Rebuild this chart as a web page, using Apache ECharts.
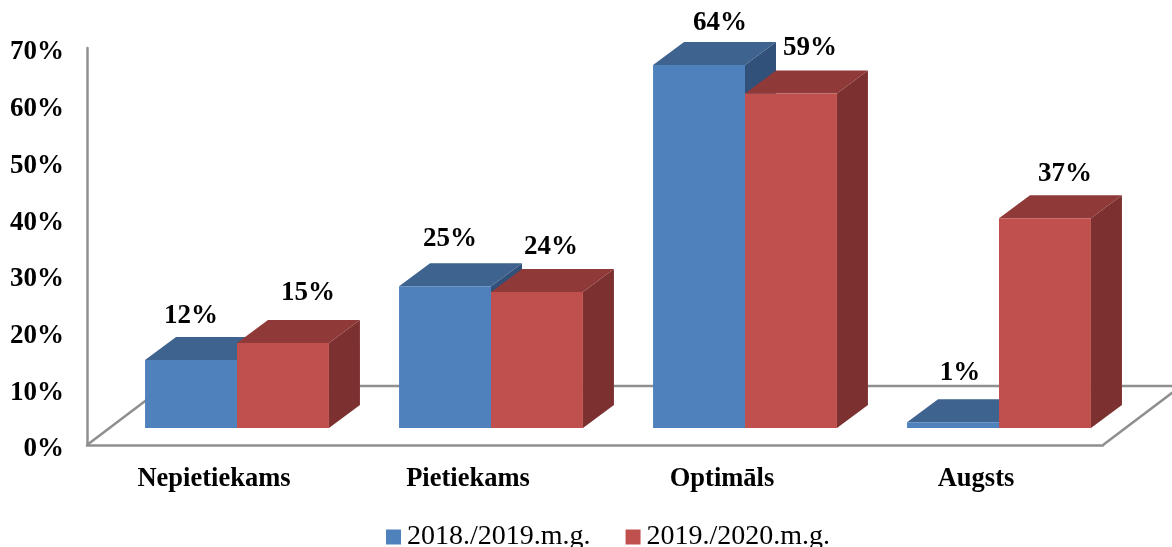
<!DOCTYPE html>
<html>
<head>
<meta charset="utf-8">
<style>
    html, body { margin: 0; padding: 0; background: #fff; overflow: hidden; }
    #chart { width: 1172px; height: 547px; }
</style>
<script src="https://cdn.jsdelivr.net/npm/echarts@6/dist/echarts.min.js"></script>
</head>
<body>
<div id="chart"></div>
<script>
var categories = ['Nepietiekams', 'Pietiekams', 'Optimāls', 'Augsts'];
var seriesNames = ['2018./2019.m.g.', '2019./2020.m.g.'];
var values2018 = [12, 25, 64, 1];
var values2019 = [15, 24, 59, 37];

// hand placed labels in the original: shift from the middle of each bar [x, y]
var labelShift2018 = [[0, -44], [5, -47], [21, -42], [7, -49]];
var labelShift2019 = [[25, -50], [14, -45], [19, -45], [20, -44]];

var serif = '"Liberation Serif", "Times New Roman", serif';
var boldFont = 'bold 27px ' + serif;
var wallColor = '#8f8f8f';

// fake 3d: bars sit a little behind the front edge of the floor
var barShift = [23, -17];
var barDepth = [31, -23];
var floorDepth = [78, -59];

var blue = { front: '#4f81bd', top: '#3e638f', side: '#31517a' };
var red = { front: '#c0504d', top: '#8f3a39', side: '#7c3130' };

function poly(points, color) {
    return { type: 'polygon', shape: { points: points }, style: { fill: color } };
}

function renderFloor(params, api) {
    var left = api.coord([0, 0]);
    var band = api.size([1, 0])[0];
    var x0 = left[0] - band / 2;
    var x1 = x0 + band * categories.length;
    var y0 = left[1];
    return {
        type: 'polyline',
        shape: {
            points: [
                [x0, y0],
                [x0 + floorDepth[0], y0 + floorDepth[1]],
                [x1 + floorDepth[0], y0 + floorDepth[1]],
                [x1, y0]
            ]
        },
        style: { stroke: wallColor, lineWidth: 2.5, fill: null }
    };
}

// side: -1 is the left bar of a pair, 0 the right one
function makeBarRender(side, colors, shifts) {
    return function (params, api) {
        var i = api.value(0);
        var val = api.value(1);
        var top = api.coord([i, val]);
        var base = api.coord([i, 0]);
        var w = api.size([1, 0])[0] * 0.362;
        var x0 = top[0] + barShift[0] + side * w;
        var x1 = x0 + w;
        var y0 = top[1] + barShift[1];
        var y1 = base[1] + barShift[1];
        var dx = barDepth[0];
        var dy = barDepth[1];
        var shift = shifts[params.dataIndex];
        return {
            type: 'group',
            children: [
                poly([[x1, y0], [x1 + dx, y0 + dy], [x1 + dx, y1 + dy], [x1, y1]], colors.side),
                poly([[x0, y0], [x0 + dx, y0 + dy], [x1 + dx, y0 + dy], [x1, y0]], colors.top),
                poly([[x0, y0], [x1, y0], [x1, y1], [x0, y1]], colors.front),
                {
                    type: 'text',
                    style: {
                        text: val + '%',
                        x: (x0 + x1) / 2 + shift[0],
                        y: y0 + shift[1],
                        textAlign: 'center',
                        textVerticalAlign: 'middle',
                        font: boldFont,
                        fill: '#000'
                    }
                }
            ]
        };
    };
}

function toRows(values) {
    var rows = [];
    for (var i = 0; i < values.length; i++) {
        rows.push([i, values[i]]);
    }
    return rows;
}

var myChart = echarts.init(document.getElementById('chart'), null, { renderer: 'canvas' });
myChart.setOption({
    animation: false,
    backgroundColor: '#fff',
    grid: { left: 87, top: 48, width: 1016, height: 397 },
    legend: {
        data: seriesNames,
        left: 381,
        top: 518,
        icon: 'rect',
        itemWidth: 15,
        itemHeight: 15,
        itemGap: 35,
        textStyle: { fontFamily: serif, fontSize: 28, color: '#000', padding: [5, 0, 0, 1] }
    },
    xAxis: {
        type: 'category',
        data: categories,
        axisLine: { lineStyle: { color: wallColor, width: 2.5 } },
        axisTick: { show: false },
        axisLabel: { margin: 21, color: '#000', fontFamily: serif, fontWeight: 'bold', fontSize: 26.5 }
    },
    yAxis: {
        type: 'value',
        min: 0,
        max: 70,
        interval: 10,
        splitLine: { show: false },
        axisLine: { show: true, lineStyle: { color: wallColor, width: 2.5 } },
        axisTick: { show: false },
        axisLabel: { formatter: '{value}%', margin: 23, verticalAlign: 'top', padding: [-9, 0, 0, 0], color: '#000', fontFamily: serif, fontWeight: 'bold', fontSize: 27 }
    },
    series: [
        {
            name: 'floor',
            type: 'custom',
            silent: true,
            clip: false,
            renderItem: renderFloor,
            data: [[0, 0]]
        },
        {
            name: seriesNames[0],
            type: 'custom',
            itemStyle: { color: blue.front },
            renderItem: makeBarRender(-1, blue, labelShift2018),
            data: toRows(values2018)
        },
        {
            name: seriesNames[1],
            type: 'custom',
            itemStyle: { color: red.front },
            renderItem: makeBarRender(0, red, labelShift2019),
            data: toRows(values2019)
        }
    ]
});
</script>
</body>
</html>
